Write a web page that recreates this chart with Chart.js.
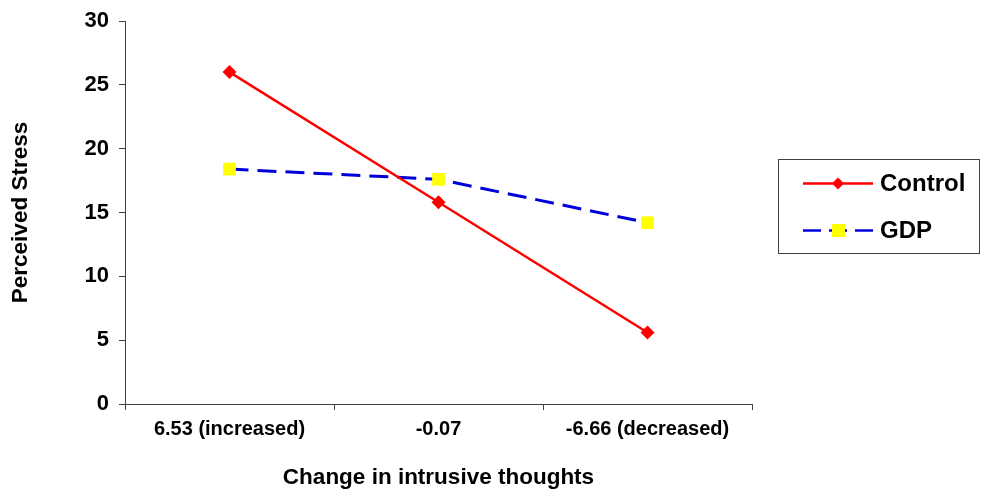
<!DOCTYPE html>
<html>
<head>
<meta charset="utf-8">
<script src="https://cdn.jsdelivr.net/npm/chart.js@4.4.1/dist/chart.umd.min.js"></script>
<style>
html,body{margin:0;padding:0;background:#fff;}
#wrap{width:983px;height:496px;}
</style>
</head>
<body>
<div id="wrap"><canvas id="c" width="983" height="496"></canvas></div>
<script>
const categories = ["6.53 (increased)", "-0.07", "-6.66 (decreased)"];
const controlValues = [26.0, 15.8, 5.6];
const gdpValues = [18.4, 17.6, 14.2];
const seriesNames = ["Control", "GDP"];
const yTicks = [0, 5, 10, 15, 20, 25, 30];

const FONT = "'Liberation Sans', Arial, sans-serif";

const legendPlugin = {
  id: 'boxLegend',
  afterDraw(chart) {
    const ctx = chart.ctx;
    ctx.save();
    ctx.strokeStyle = '#404040';
    ctx.lineWidth = 1;
    ctx.strokeRect(778.5, 159.5, 201, 94);
    ctx.font = "bold 24px " + FONT;
    ctx.textBaseline = 'middle';
    ctx.textAlign = 'left';
    // Control row
    let y = 183.5;
    ctx.strokeStyle = '#FF0000';
    ctx.lineWidth = 2.5;
    ctx.setLineDash([]);
    ctx.beginPath(); ctx.moveTo(803, y); ctx.lineTo(873, y); ctx.stroke();
    ctx.fillStyle = '#FF0000';
    ctx.beginPath();
    ctx.moveTo(838, y - 6); ctx.lineTo(844, y); ctx.lineTo(838, y + 6); ctx.lineTo(832, y); ctx.closePath();
    ctx.fill();
    ctx.fillStyle = '#000';
    ctx.fillText(seriesNames[0], 880, y + 1);
    // GDP row
    y = 230.5;
    ctx.strokeStyle = '#0000DD';
    ctx.setLineDash([18, 8]);
    ctx.beginPath(); ctx.moveTo(803, y); ctx.lineTo(873, y); ctx.stroke();
    ctx.setLineDash([]);
    ctx.fillStyle = '#FFFF00';
    ctx.fillRect(832, y - 6.5, 13, 13);
    ctx.fillStyle = '#000';
    ctx.fillText(seriesNames[1], 880, y + 1);
    ctx.restore();
  }
};

new Chart(document.getElementById('c'), {
  type: 'line',
  data: {
    labels: categories,
    datasets: [
      {
        label: seriesNames[0],
        data: controlValues,
        borderColor: '#FF0000',
        backgroundColor: '#FF0000',
        borderWidth: 2.5,
        pointStyle: 'rectRot',
        pointRadius: 7,
        pointHoverRadius: 7,
        pointBorderWidth: 0,
        tension: 0,
        fill: false
      },
      {
        label: seriesNames[1],
        data: gdpValues,
        borderColor: '#0000DD',
        backgroundColor: '#FFFF00',
        borderWidth: 3,
        borderDash: [19, 9],
        pointStyle: 'rect',
        pointRadius: 9,
        pointHoverRadius: 9,
        pointBorderWidth: 0,
        tension: 0,
        fill: false
      }
    ]
  },
  options: {
    responsive: false,
    animation: false,
    devicePixelRatio: 1,
    layout: { padding: { left: 0, right: 231, top: 20, bottom: 0 } },
    plugins: {
      legend: { display: false },
      tooltip: { enabled: false }
    },
    scales: {
      x: {
        type: 'category',
        offset: true,
        afterFit(s) { s.height = 92; },
        grid: { offset: true, drawOnChartArea: false, drawTicks: true, tickLength: 6, color: '#404040', tickColor: '#404040' },
        border: { display: true, color: '#404040', width: 1 },
        ticks: { color: '#000', font: { family: FONT, size: 20, weight: 'bold' }, padding: 7, maxRotation: 0, autoSkip: false },
        title: { display: true, text: 'Change in intrusive thoughts', color: '#000', font: { family: FONT, size: 22.5, weight: 'bold' }, padding: { top: 0, bottom: 4.5 } }
      },
      y: {
        min: 0, max: 30,
        afterFit(s) { s.width = 125; },
        afterBuildTicks(s) { s.ticks = yTicks.map(v => ({ value: v })); },
        grid: { drawOnChartArea: false, drawTicks: true, tickLength: 6, color: '#404040', tickColor: '#404040' },
        border: { display: true, color: '#404040', width: 1 },
        ticks: { color: '#000', font: { family: FONT, size: 22, weight: 'bold', lineHeight: 1 }, padding: 10 },
        title: { display: true, text: 'Perceived Stress', color: '#000', font: { family: FONT, size: 22.5, weight: 'bold' }, padding: { top: 7.5, bottom: 0 } }
      }
    }
  },
  plugins: [legendPlugin]
});
</script>
</body>
</html>
